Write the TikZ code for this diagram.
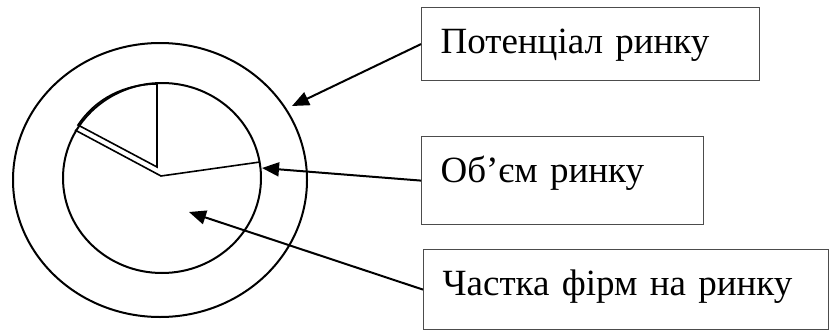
\documentclass[tikz,border=0pt]{standalone}
\usepackage{fontspec}
\setmainfont{Liberation Serif}
\usetikzlibrary{arrows.meta}
\begin{document}
\begin{tikzpicture}[x=1pt,y=-1pt,
  ring/.style={line width=2pt},
  pie/.style={line width=1.6pt},
  box/.style={draw=black!70, line width=1.2pt, rectangle, anchor=north west,
    inner ysep=0pt, inner xsep=19pt, align=left, font=\fontsize{37}{40}\selectfont},
  ptr/.style={line width=2pt, -{Triangle[length=17pt,width=14pt]}}]
\useasboundingbox (0,0) rectangle (829,332);
% circles
\draw[ring] (160,180) ellipse [x radius=147pt, y radius=137pt];
\draw[ring] (162,178) ellipse [x radius=99pt, y radius=95pt];
% pie
\coordinate (c) at (161,176);
\coordinate (e1) at (260,162);
\coordinate (e2) at (75,130);
\draw[pie] (e1) -- (c) -- (e2);
\coordinate (s) at (157,167);
\coordinate (st) at (157,84);
\coordinate (sl) at (78,125);
\draw[pie, line join=miter] (st) -- (s) -- (sl) .. controls (96,98) and (125,84) .. (st);
% boxes
\node[box, minimum width=338pt, minimum height=73pt, text width=300pt,
  text height=46pt, text depth=27pt] (b1) at (421,7) {Потенціал ринку};
\node[box, minimum width=282pt, minimum height=88pt, text width=244pt,
  text height=46pt, text depth=42pt] (b2) at (421,136) {Об’єм ринку};
\node[box, minimum width=405pt, minimum height=80pt, text width=367pt,
  text height=46pt, text depth=34pt] (b3) at (423,249) {Частка фірм на ринку};
% arrow targets
\coordinate (a1) at (292,106);
\coordinate (a2) at (262,168);
\coordinate (a3) at (189,212);
\draw[ptr] (b1.west) -- (a1);
\draw[ptr] (b2.west) -- (a2);
\draw[ptr] (b3.west) -- (a3);
\end{tikzpicture}
\end{document}
